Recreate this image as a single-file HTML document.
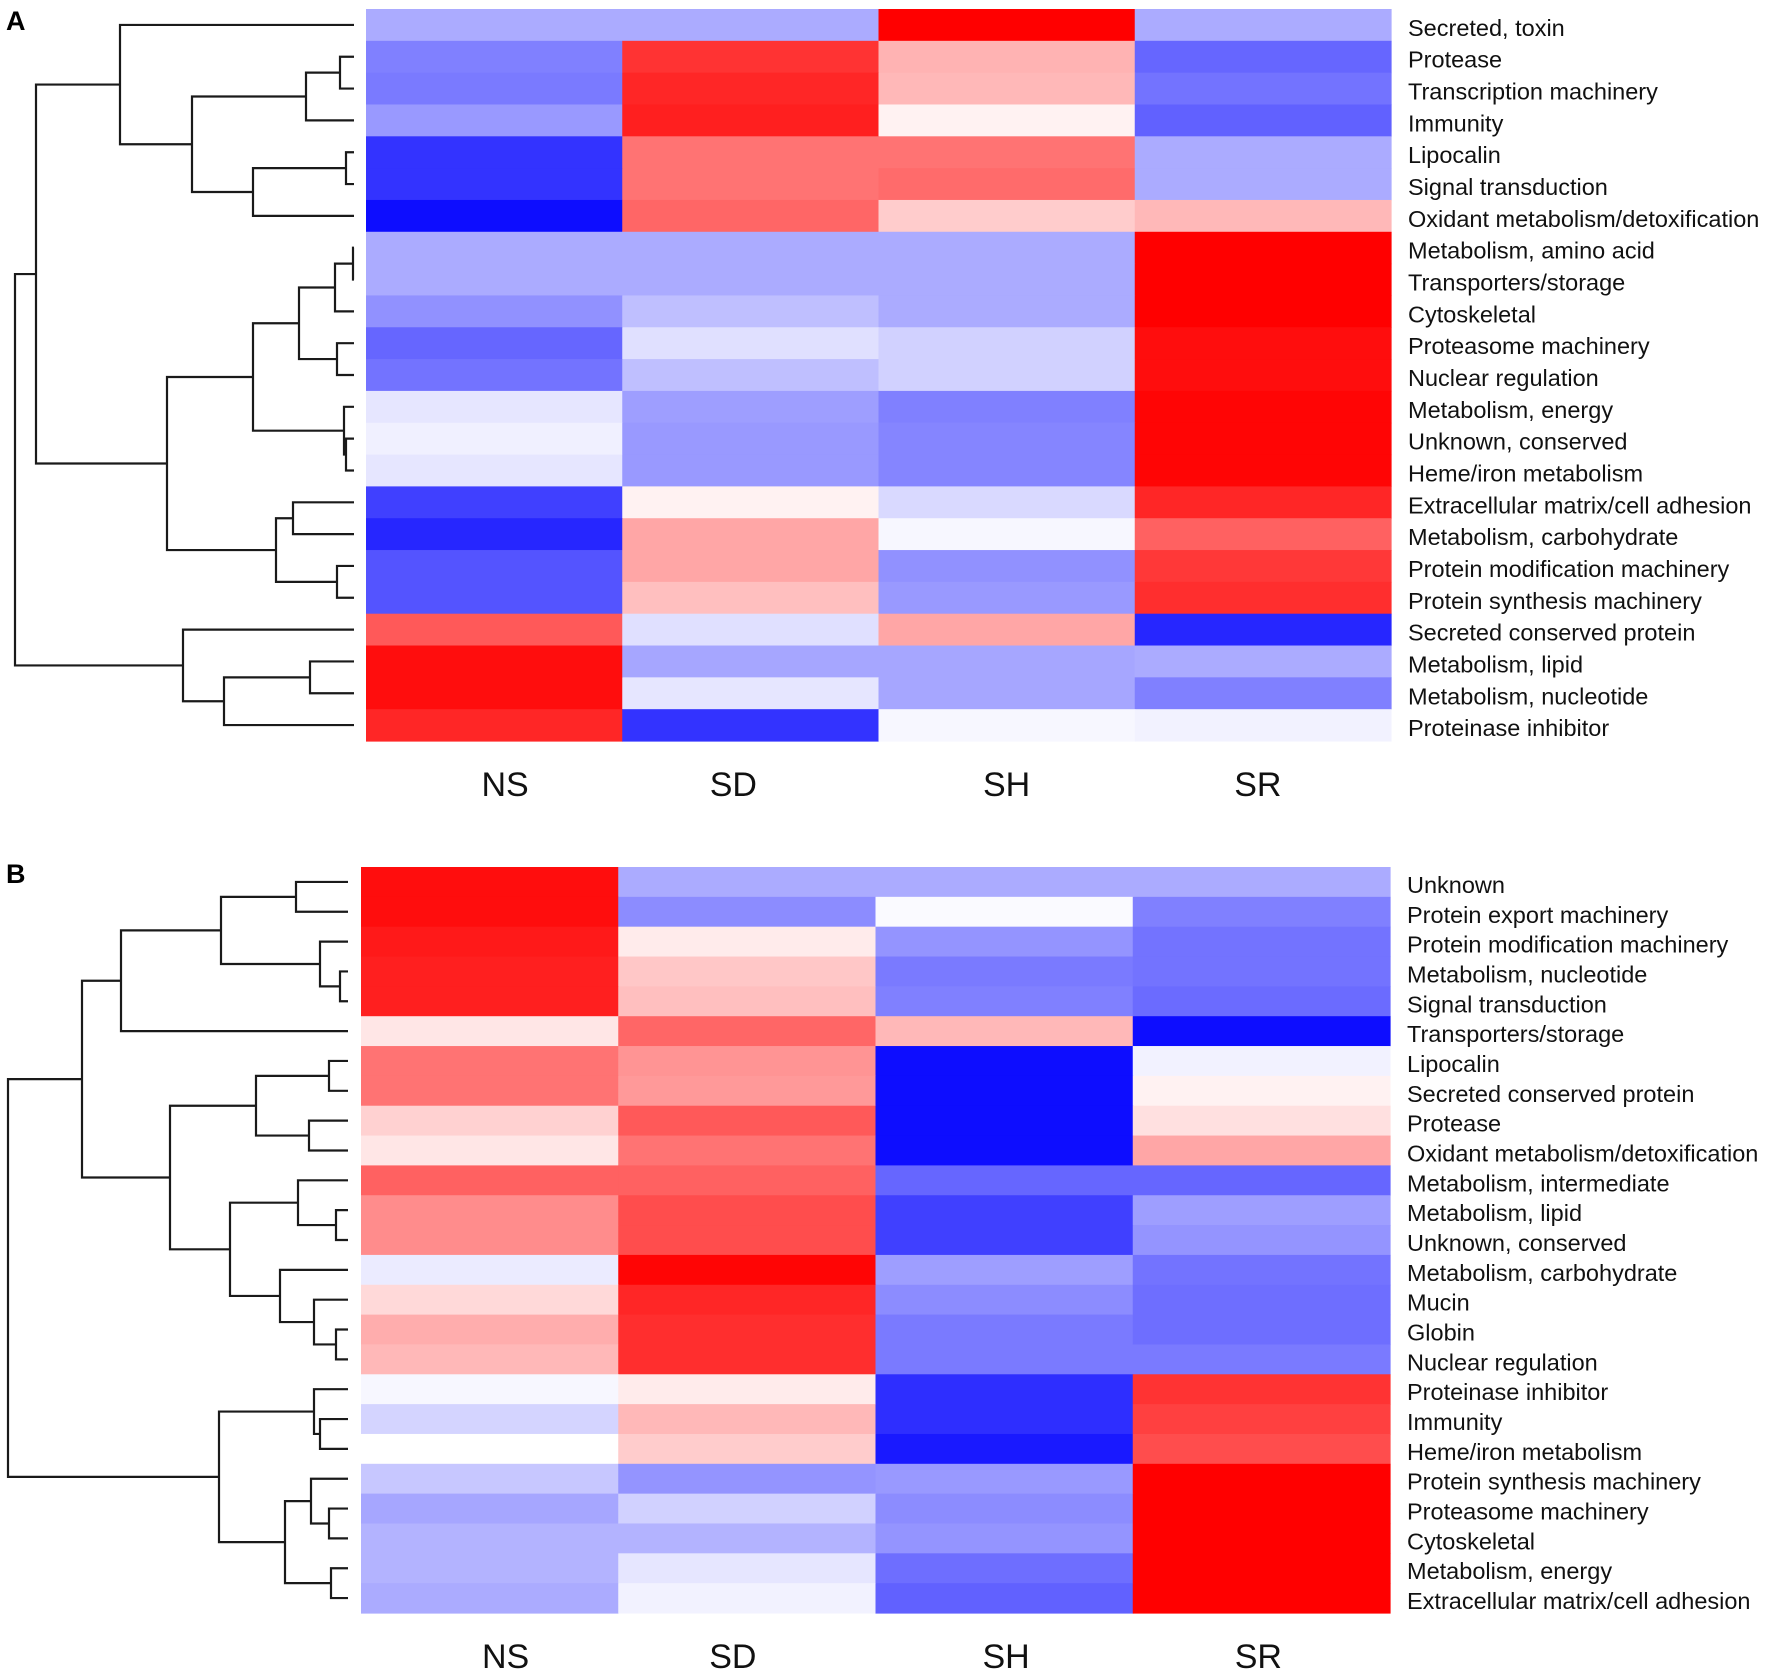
<!DOCTYPE html>
<html><head><meta charset="utf-8">
<style>
html,body{margin:0;padding:0;background:#fff;}
svg{display:block;font-family:"Liberation Sans",Arial,sans-serif;}
</style></head>
<body>
<svg id="chart" width="1772" height="1675" viewBox="0 0 1772 1675" xmlns="http://www.w3.org/2000/svg">
<text x="6" y="30" font-size="27" font-weight="bold">A</text>
<text x="6" y="883" font-size="27" font-weight="bold">B</text>
</svg>
<script>
const columns = ["NS","SD","SH","SR"];
const rowsA = ["Secreted, toxin","Protease","Transcription machinery","Immunity","Lipocalin","Signal transduction","Oxidant metabolism/detoxification","Metabolism, amino acid","Transporters/storage","Cytoskeletal","Proteasome machinery","Nuclear regulation","Metabolism, energy","Unknown, conserved","Heme/iron metabolism","Extracellular matrix/cell adhesion","Metabolism, carbohydrate","Protein modification machinery","Protein synthesis machinery","Secreted conserved protein","Metabolism, lipid","Metabolism, nucleotide","Proteinase inhibitor"];
const valuesA = [
[-0.33,-0.33,1.0,-0.33],[-0.5,0.8,0.3,-0.6],[-0.52,0.85,0.28,-0.55],[-0.4,0.88,0.05,-0.62],
[-0.8,0.55,0.55,-0.33],[-0.8,0.55,0.58,-0.33],[-0.95,0.6,0.2,0.28],[-0.33,-0.33,-0.33,1.0],
[-0.33,-0.33,-0.33,1.0],[-0.43,-0.25,-0.33,1.0],[-0.6,-0.12,-0.18,0.95],[-0.55,-0.25,-0.18,0.95],
[-0.1,-0.38,-0.5,0.98],[-0.06,-0.4,-0.48,0.98],[-0.1,-0.4,-0.48,0.98],[-0.75,0.05,-0.15,0.85],
[-0.85,0.35,-0.03,0.62],[-0.67,0.35,-0.43,0.78],[-0.67,0.25,-0.4,0.82],[0.65,-0.12,0.35,-0.85],
[0.95,-0.35,-0.35,-0.33],[0.95,-0.1,-0.35,-0.5],[0.85,-0.8,-0.03,-0.05]];
const treeA = [[1,2,340],[23,3,306],[4,5,346],[25,6,253],[24,26,192],[0,27,120],[7,8,353],[29,9,335],[10,11,337],[30,31,299],[13,14,346],[12,33,344],[32,34,253],[15,16,293],[17,18,337],[36,37,276],[35,38,167],[28,39,36],[20,21,310],[41,22,224],[19,42,183],[40,43,15]];
const rowsB = ["Unknown","Protein export machinery","Protein modification machinery","Metabolism, nucleotide","Signal transduction","Transporters/storage","Lipocalin","Secreted conserved protein","Protease","Oxidant metabolism/detoxification","Metabolism, intermediate","Metabolism, lipid","Unknown, conserved","Metabolism, carbohydrate","Mucin","Globin","Nuclear regulation","Proteinase inhibitor","Immunity","Heme/iron metabolism","Protein synthesis machinery","Proteasome machinery","Cytoskeletal","Metabolism, energy","Extracellular matrix/cell adhesion"];
const valuesB = [
[0.95,-0.33,-0.33,-0.33],[0.95,-0.45,-0.02,-0.5],[0.9,0.08,-0.42,-0.55],[0.88,0.22,-0.52,-0.55],
[0.88,0.25,-0.5,-0.58],[0.1,0.6,0.28,-0.95],[0.55,0.42,-0.95,-0.05],[0.55,0.4,-0.95,0.05],
[0.18,0.65,-0.95,0.12],[0.1,0.55,-0.95,0.35],[0.62,0.62,-0.6,-0.6],[0.45,0.7,-0.75,-0.38],
[0.45,0.7,-0.75,-0.42],[-0.08,0.98,-0.38,-0.55],[0.15,0.85,-0.45,-0.57],[0.32,0.82,-0.52,-0.57],
[0.28,0.82,-0.52,-0.52],[-0.03,0.08,-0.82,0.8],[-0.17,0.28,-0.82,0.75],[0,0.2,-0.9,0.7],
[-0.22,-0.42,-0.4,1.0],[-0.35,-0.18,-0.45,1.0],[-0.3,-0.3,-0.42,1.0],[-0.3,-0.1,-0.57,1.0],[-0.33,-0.05,-0.62,1.0]];
const treeB = [[0,1,296],[3,4,340],[2,26,320],[25,27,221],[28,5,121],[6,7,329],[8,9,309],[30,31,256],[11,12,336],[10,33,298],[15,16,336],[14,35,314],[13,36,280],[34,37,230],[32,38,170],[29,39,82],[18,19,320],[17,41,314],[21,22,329],[20,43,311],[23,24,331],[44,45,285],[42,46,219],[40,47,8]];

const NS="http://www.w3.org/2000/svg";
const svg=document.getElementById('chart');
function color(v){
  v=Math.max(-1,Math.min(1,v));
  if(v<0){const c=Math.round(255*(1+v));return `rgb(${c},${c},255)`;}
  const c=Math.round(255*(1-v));return `rgb(255,${c},${c})`;
}
function mk(tag,attrs,parent){const e=document.createElementNS(NS,tag);for(const k in attrs)e.setAttribute(k,attrs[k]);parent.appendChild(e);return e;}

function panel(cfg){
  const g=mk('g',{},svg);
  
  
  const n=cfg.rows.length;
  const rh=(cfg.bottom-cfg.top)/n;
  const cw=(cfg.right-cfg.left)/columns.length;
  const yC=i=>cfg.top+rh*(i+0.5);
  const xC=j=>cfg.left+cw*j;
  cfg.values.forEach((row,i)=>{
    row.forEach((v,j)=>{
      const r=mk('rect',{x:xC(j),y:cfg.top+rh*i,width:cw+0.6,height:rh+0.6,fill:color(v)},g);
      
      
    });
    const t=mk('text',{x:cfg.right+17,y:yC(i)+11,'font-size':23.5,fill:'#111'},g);
    t.textContent=cfg.rows[i];
    
    
  });
  columns.forEach((c,j)=>{
    const t=mk('text',{x:xC(j)+cw/2+cfg.colOff[j],y:cfg.colY,'font-size':34,'text-anchor':'middle',fill:'#111'},g);
    t.textContent=c;
    
    
  });
  const pos=[];
  for(let i=0;i<n;i++)pos.push({x:cfg.leafX,y:yC(i)});
  const dg=mk('g',{stroke:'#1a1a1a','stroke-width':2.2,fill:'none'},g);
  
  
  cfg.tree.forEach(([a,b,x])=>{
    const A=pos[a],B=pos[b];
    const p=mk('path',{d:`M${A.x},${A.y}H${x}V${B.y}H${B.x}`},dg);
    
    
    pos.push({x:x,y:(A.y+B.y)/2});
  });
}
panel({name:'panel-a',rows:rowsA,values:valuesA,tree:treeA,left:366,right:1391,top:9,bottom:741,colY:796,leafX:354,colOff:[11,-17,0,-5]});
panel({name:'panel-b',rows:rowsB,values:valuesB,tree:treeB,left:361,right:1390,top:867,bottom:1613,colY:1668,leafX:348,colOff:[16,-14,2,-3]});
</script>
</body></html>
